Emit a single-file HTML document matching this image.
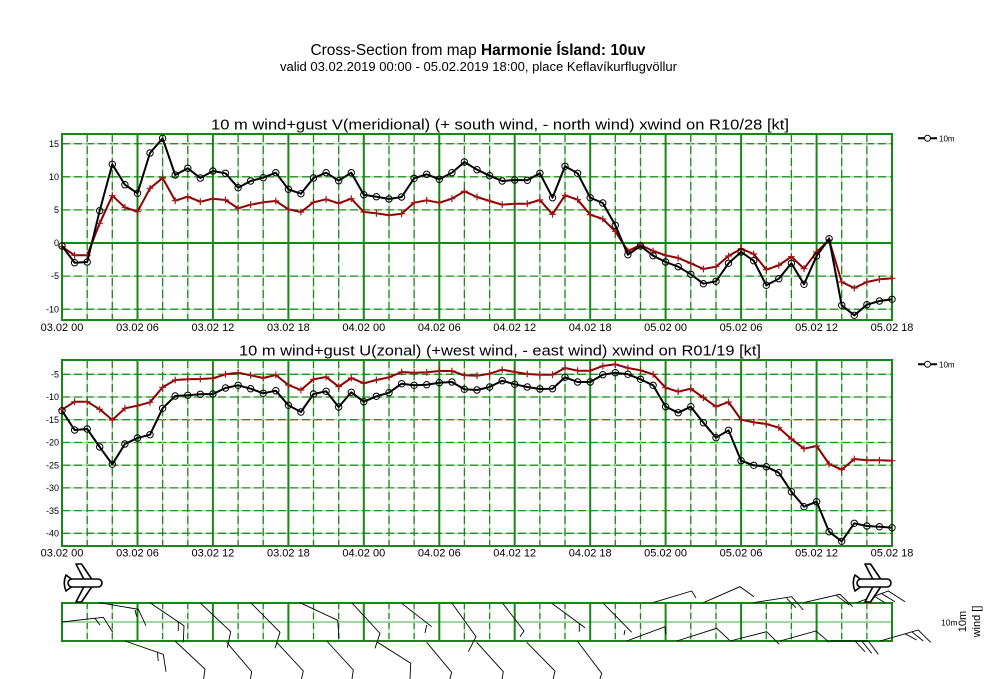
<!DOCTYPE html>
<html><head><meta charset="utf-8"><style>
html,body{margin:0;padding:0;background:#fff;}
svg{display:block;}
text{font-family:"Liberation Sans","DejaVu Sans",sans-serif;fill:#000;}
</style></head><body>
<svg width="1000" height="679" viewBox="0 0 1000 679" xmlns="http://www.w3.org/2000/svg">
<defs>
<marker id="mc" markerWidth="10" markerHeight="10" refX="5" refY="5" markerUnits="userSpaceOnUse"><circle cx="5" cy="5" r="3.2" fill="none" stroke="#000" stroke-width="1"/></marker>
<marker id="mp" markerWidth="10" markerHeight="10" refX="5" refY="5" markerUnits="userSpaceOnUse"><path d="M1.6 5H8.4M5 1.6V8.4" stroke="#a01818" stroke-width="1.2"/></marker>
</defs>
<rect width="1000" height="679" fill="#fff"/>

<!-- Titles -->
<text x="478" y="55" text-anchor="middle" font-size="15.5" textLength="335" lengthAdjust="spacingAndGlyphs">Cross-Section from map <tspan font-weight="bold">Harmonie Ísland: 10uv</tspan></text>
<text x="478.5" y="71" text-anchor="middle" font-size="12.5" textLength="397" lengthAdjust="spacingAndGlyphs">valid 03.02.2019 00:00 - 05.02.2019 18:00, place Keflavíkurflugvöllur</text>

<text x="500" y="129.5" text-anchor="middle" font-size="15" textLength="578" lengthAdjust="spacingAndGlyphs">10 m wind+gust V(meridional) (+ south wind, - north wind) xwind on R10/28 [kt]</text>
<text x="500" y="355.5" text-anchor="middle" font-size="15" textLength="522" lengthAdjust="spacingAndGlyphs">10 m wind+gust U(zonal) (+west wind, - east wind) xwind on R01/19 [kt]</text>

<!-- ===== Top plot grid ===== -->
<g fill="none">
<path d="M62 143.7H892M62 176.8H892M62 209.9H892M62 276.1H892M62 309.2H892" stroke="#a6d8a6" stroke-width="1.3"/>
<path d="M62 143.7H892M62 176.8H892M62 209.9H892M62 276.1H892M62 309.2H892" stroke="#2a8c2a" stroke-width="1.3" stroke-dasharray="8,4"/>
<path d="M87.2 134V320M112.3 134V320M162.6 134V320M187.8 134V320M238.1 134V320M263.2 134V320M313.5 134V320M338.7 134V320M389 134V320M414.1 134V320M464.4 134V320M489.6 134V320M539.9 134V320M565 134V320M615.3 134V320M640.5 134V320M690.8 134V320M716 134V320M766.3 134V320M791.4 134V320M841.7 134V320M866.9 134V320" stroke="#a6d8a6" stroke-width="1.2"/>
<path d="M87.2 134V320M112.3 134V320M162.6 134V320M187.8 134V320M238.1 134V320M263.2 134V320M313.5 134V320M338.7 134V320M389 134V320M414.1 134V320M464.4 134V320M489.6 134V320M539.9 134V320M565 134V320M615.3 134V320M640.5 134V320M690.8 134V320M716 134V320M766.3 134V320M791.4 134V320M841.7 134V320M866.9 134V320" stroke="#1f861f" stroke-width="1.3" stroke-dasharray="8,4"/>
<path d="M137.5 134V320M212.9 134V320M288.4 134V320M363.8 134V320M439.3 134V320M514.7 134V320M590.2 134V320M665.6 134V320M741.1 134V320M816.6 134V320M62 243H892" stroke="#168816" stroke-width="2"/>
<rect x="62" y="134" width="830" height="186" stroke="#168816" stroke-width="2"/>
</g>
<g font-size="9" text-anchor="end">
<text x="59" y="147">15</text><text x="59" y="180">10</text><text x="59" y="213">5</text><text x="59" y="246">0</text><text x="59" y="279">-5</text><text x="59" y="312.5">-10</text>
</g>
<g font-size="11" text-anchor="middle">
<text x="62" y="331">03.02 00</text><text x="137.5" y="331">03.02 06</text><text x="212.9" y="331">03.02 12</text><text x="288.4" y="331">03.02 18</text><text x="363.8" y="331">04.02 00</text><text x="439.3" y="331">04.02 06</text><text x="514.7" y="331">04.02 12</text><text x="590.2" y="331">04.02 18</text><text x="665.6" y="331">05.02 00</text><text x="741.1" y="331">05.02 06</text><text x="816.6" y="331">05.02 12</text><text x="892" y="331">05.02 18</text>
</g>
<polyline fill="none" stroke="#8b0000" stroke-width="2" stroke-linejoin="round" marker-start="url(#mp)" marker-mid="url(#mp)" marker-end="url(#mp)" points="62,246.7 74.6,255.3 87.2,255.3 99.7,223.3 112.3,195.7 124.9,207.3 137.5,211.7 150.0,188.3 162.6,178.0 175.2,200.7 187.8,196.7 200.3,201.7 212.9,198.7 225.5,200.0 238.1,208.3 250.6,204.7 263.2,202.3 275.8,201.0 288.4,209.3 300.9,212.0 313.5,202.3 326.1,199.3 338.7,203.3 351.3,198.7 363.8,212.0 376.4,213.3 389.0,215.3 401.6,213.7 414.1,202.7 426.7,200.3 439.3,202.7 451.9,198.7 464.4,191.3 477.0,197.0 489.6,201.0 502.2,204.7 514.7,203.7 527.3,203.7 539.9,200.0 552.5,214.3 565.0,195.3 577.6,199.7 590.2,214.7 602.8,219.0 615.3,231.3 627.9,251.0 640.5,245.0 653.1,251.0 665.6,255.3 678.2,258.0 690.8,263.3 703.4,269.0 716.0,266.7 728.5,256.0 741.1,248.7 753.7,254.0 766.3,269.7 778.8,265.3 791.4,256.7 804.0,268.7 816.6,252.0 829.1,240.0 841.7,282.0 854.3,288.0 866.9,282.0 879.4,279.3 892.0,278.3"/>
<polyline fill="none" stroke="#000" stroke-width="2" stroke-linejoin="round" marker-start="url(#mc)" marker-mid="url(#mc)" marker-end="url(#mc)" points="62,246.0 74.6,262.7 87.2,262.0 99.7,210.7 112.3,164.3 124.9,184.7 137.5,193.3 150.0,153.0 162.6,138.3 175.2,175.0 187.8,168.3 200.3,178.0 212.9,171.0 225.5,173.3 238.1,187.7 250.6,181.0 263.2,177.7 275.8,172.7 288.4,189.3 300.9,193.7 313.5,178.0 326.1,172.7 338.7,180.7 351.3,172.7 363.8,194.7 376.4,196.7 389.0,199.0 401.6,197.0 414.1,178.3 426.7,174.3 439.3,179.3 451.9,172.7 464.4,162.0 477.0,169.7 489.6,175.7 502.2,181.0 514.7,180.0 527.3,180.3 539.9,173.3 552.5,197.7 565.0,166.3 577.6,173.3 590.2,197.7 602.8,203.0 615.3,225.3 627.9,254.7 640.5,246.0 653.1,255.7 665.6,262.0 678.2,266.7 690.8,274.3 703.4,283.7 716.0,281.3 728.5,263.3 741.1,252.0 753.7,260.7 766.3,285.3 778.8,278.7 791.4,263.3 804.0,284.3 816.6,256.0 829.1,238.7 841.7,305.3 854.3,315.3 866.9,304.7 879.4,301.0 892.0,299.3"/>
<!-- legend top -->
<path d="M918 138.3H937" stroke="#000" stroke-width="2"/>
<circle cx="927.5" cy="138.3" r="3" fill="#fff" stroke="#000" stroke-width="1"/>
<text x="939" y="141.3" font-size="8">10m</text>

<!-- ===== Bottom plot grid ===== -->
<g fill="none">
<path d="M62 374.3H892M62 397H892M62 419.7H892M62 442.5H892M62 465.2H892M62 487.9H892M62 510.6H892M62 533.3H892" stroke="#a6d8a6" stroke-width="1.3"/>
<path d="M62 374.3H892M62 397H892M62 419.7H892M62 442.5H892M62 465.2H892M62 487.9H892M62 510.6H892M62 533.3H892" stroke="#2a8c2a" stroke-width="1.3" stroke-dasharray="8,4"/>
<path d="M87.2 360V546M112.3 360V546M162.6 360V546M187.8 360V546M238.1 360V546M263.2 360V546M313.5 360V546M338.7 360V546M389 360V546M414.1 360V546M464.4 360V546M489.6 360V546M539.9 360V546M565 360V546M615.3 360V546M640.5 360V546M690.8 360V546M716 360V546M766.3 360V546M791.4 360V546M841.7 360V546M866.9 360V546" stroke="#a6d8a6" stroke-width="1.2"/>
<path d="M87.2 360V546M112.3 360V546M162.6 360V546M187.8 360V546M238.1 360V546M263.2 360V546M313.5 360V546M338.7 360V546M389 360V546M414.1 360V546M464.4 360V546M489.6 360V546M539.9 360V546M565 360V546M615.3 360V546M640.5 360V546M690.8 360V546M716 360V546M766.3 360V546M791.4 360V546M841.7 360V546M866.9 360V546" stroke="#1f861f" stroke-width="1.3" stroke-dasharray="8,4"/>
<path d="M137.5 360V546M212.9 360V546M288.4 360V546M363.8 360V546M439.3 360V546M514.7 360V546M590.2 360V546M665.6 360V546M741.1 360V546M816.6 360V546" stroke="#168816" stroke-width="2"/>
<rect x="62" y="360" width="830" height="186" stroke="#168816" stroke-width="2"/>
</g>
<g font-size="9" text-anchor="end">
<text x="59" y="377.5">-5</text><text x="59" y="400.2">-10</text><text x="59" y="422.9">-15</text><text x="59" y="445.7">-20</text><text x="59" y="468.4">-25</text><text x="59" y="491.1">-30</text><text x="59" y="513.8">-35</text><text x="59" y="536.5">-40</text>
</g>
<g font-size="11" text-anchor="middle">
<text x="62" y="556.5">03.02 00</text><text x="137.5" y="556.5">03.02 06</text><text x="212.9" y="556.5">03.02 12</text><text x="288.4" y="556.5">03.02 18</text><text x="363.8" y="556.5">04.02 00</text><text x="439.3" y="556.5">04.02 06</text><text x="514.7" y="556.5">04.02 12</text><text x="590.2" y="556.5">04.02 18</text><text x="665.6" y="556.5">05.02 00</text><text x="741.1" y="556.5">05.02 06</text><text x="816.6" y="556.5">05.02 12</text><text x="892" y="556.5">05.02 18</text>
</g>
<polyline fill="none" stroke="#8b0000" stroke-width="2" stroke-linejoin="round" marker-start="url(#mp)" marker-mid="url(#mp)" marker-end="url(#mp)" points="62,409.7 74.6,401.7 87.2,401.7 99.7,409.3 112.3,420.0 124.9,408.3 137.5,405.7 150.0,402.3 162.6,387.3 175.2,380.0 187.8,379.3 200.3,379.0 212.9,378.3 225.5,374.3 238.1,372.7 250.6,375.3 263.2,378.0 275.8,375.0 288.4,385.0 300.9,390.0 313.5,379.3 326.1,377.0 338.7,386.7 351.3,378.0 363.8,383.3 376.4,380.0 389.0,377.3 401.6,372.0 414.1,372.7 426.7,372.3 439.3,371.0 451.9,371.0 464.4,375.3 477.0,375.7 489.6,373.7 502.2,369.7 514.7,372.0 527.3,374.0 539.9,374.7 552.5,374.7 565.0,368.0 577.6,370.7 590.2,370.7 602.8,366.0 615.3,364.3 627.9,368.0 640.5,370.3 653.1,374.3 665.6,387.7 678.2,391.7 690.8,388.7 703.4,397.7 716.0,406.7 728.5,402.0 741.1,419.7 753.7,422.3 766.3,424.0 778.8,427.7 791.4,439.0 804.0,448.7 816.6,446.0 829.1,464.0 841.7,469.7 854.3,459.0 866.9,460.3 879.4,460.3 892.0,460.7"/>
<polyline fill="none" stroke="#000" stroke-width="2" stroke-linejoin="round" marker-start="url(#mc)" marker-mid="url(#mc)" marker-end="url(#mc)" points="62,410.7 74.6,430.0 87.2,429.0 99.7,447.0 112.3,464.3 124.9,444.0 137.5,438.0 150.0,434.7 162.6,408.3 175.2,396.0 187.8,395.3 200.3,394.3 212.9,394.0 225.5,388.0 238.1,385.3 250.6,388.7 263.2,393.3 275.8,390.7 288.4,405.3 300.9,412.0 313.5,394.0 326.1,391.3 338.7,407.0 351.3,392.3 363.8,401.7 376.4,396.3 389.0,392.7 401.6,383.7 414.1,385.3 426.7,384.7 439.3,382.7 451.9,382.0 464.4,389.3 477.0,390.0 489.6,387.0 502.2,380.7 514.7,384.3 527.3,387.0 539.9,389.0 552.5,388.7 565.0,377.3 577.6,382.0 590.2,382.0 602.8,374.7 615.3,372.7 627.9,374.3 640.5,379.3 653.1,385.3 665.6,406.7 678.2,412.7 690.8,406.7 703.4,422.7 716.0,437.7 728.5,430.3 741.1,460.7 753.7,465.3 766.3,466.7 778.8,472.7 791.4,491.7 804.0,506.7 816.6,501.7 829.1,531.7 841.7,541.3 854.3,523.3 866.9,526.0 879.4,526.7 892.0,527.7"/>
<!-- legend bottom -->
<path d="M918 364.3H937" stroke="#000" stroke-width="2"/>
<circle cx="927.5" cy="364.3" r="3" fill="#fff" stroke="#000" stroke-width="1"/>
<text x="939" y="367.3" font-size="8">10m</text>

<!-- ===== Wind barb panel ===== -->
<g fill="none">
<path d="M62 622H892" stroke="#86c886" stroke-width="1.5"/>
<path d="M87.2 603V641M112.3 603V641M162.6 603V641M187.8 603V641M238.1 603V641M263.2 603V641M313.5 603V641M338.7 603V641M389 603V641M414.1 603V641M464.4 603V641M489.6 603V641M539.9 603V641M565 603V641M615.3 603V641M640.5 603V641M690.8 603V641M716 603V641M766.3 603V641M791.4 603V641M841.7 603V641M866.9 603V641" stroke="#a6d8a6" stroke-width="1.2"/>
<path d="M87.2 603V641M112.3 603V641M162.6 603V641M187.8 603V641M238.1 603V641M263.2 603V641M313.5 603V641M338.7 603V641M389 603V641M414.1 603V641M464.4 603V641M489.6 603V641M539.9 603V641M565 603V641M615.3 603V641M640.5 603V641M690.8 603V641M716 603V641M766.3 603V641M791.4 603V641M841.7 603V641M866.9 603V641" stroke="#1f861f" stroke-width="1.3" stroke-dasharray="6,4"/>
<path d="M137.5 603V641M212.9 603V641M288.4 603V641M363.8 603V641M439.3 603V641M514.7 603V641M590.2 603V641M665.6 603V641M741.1 603V641M816.6 603V641" stroke="#168816" stroke-width="2"/>
<rect x="62" y="603" width="830" height="38" stroke="#168816" stroke-width="2"/>
</g>
<g fill="none" stroke="#000" stroke-width="0.9">
<path d="M61.7 622L103.3 617.3L112.7 632.3M95 618.3L100 625"/>
<path d="M99.3 602.7L138.3 609.3L146 625.7M135 610L136.7 616.7"/>
<path d="M150 602.7L184 625.7L183.3 642.3M178.3 621.7L178.3 631"/>
<path d="M200 602.7L230.7 631.7L227.3 647.7"/>
<path d="M250.7 602.7L280 632.3L275 648.3"/>
<path d="M300 602.7L337.7 620.3L339 638.3"/>
<path d="M351.7 602.7L380 633.3L375 648.3"/>
<path d="M401.7 603.3L431.7 626.7M426.7 625L425 633"/>
<path d="M451.7 602.7L476 636.7L468.3 651.7"/>
<path d="M502.7 603.3L524 631L520 636.7"/>
<path d="M551.7 603.3L585 627.7M579.3 623.3L579.3 631.7"/>
<path d="M603.3 603.3L631.7 632.3M625 630L624 635"/>
<path d="M652.7 602.7L691.7 591L696 598"/>
<path d="M703.3 602.7L740 586.7L754 596.7"/>
<path d="M753.3 602.7L791.7 596.7L803.3 610M786.7 598.3L796 607.7"/>
<path d="M803.3 602.7L840 594.3L852.7 606.7M836.7 595.7L849.3 605"/>
<path d="M856.7 602.7L888.3 591L905 601.7M881 593.3L895 601.7M874 596L885 602.7"/>
<path d="M125 641L163.3 654.3L166 671.7M157.3 651.7L158.3 661"/>
<path d="M175 641L205 669L203.3 681"/>
<path d="M226.7 642.3L251.7 671.7L250 681"/>
<path d="M276.7 642.3L303.3 671L301 681"/>
<path d="M326.7 641L353.3 670L351.7 681"/>
<path d="M376.7 641.7L410.7 663.3L410 679"/>
<path d="M426.7 642.3L451.7 672.3L449.3 681"/>
<path d="M476.7 642.3L503.3 671.7L501.7 681"/>
<path d="M526.7 642.3L555 671L552.7 681"/>
<path d="M577.3 641L601.7 673.3L599.3 681"/>
<path d="M626.7 641L665 626.7L666 634.3"/>
<path d="M676.7 641L716.7 628.3L729.3 640"/>
<path d="M730 641L766.7 631.7L779.3 644.3"/>
<path d="M780 641L816 631L829.3 642.3"/>
<path d="M830 641L868 641M855 641L865 651.7M861.7 641L871.7 653.3M868.3 641L878.3 654.3"/>
<path d="M880 641L918.3 630L930.7 642.3M911.7 631.7L923.3 641M905 633.7L916.7 640"/>
</g>

<!-- airplanes -->
<g fill="#fff" stroke="#000" stroke-width="1.6" stroke-linejoin="round">
<path d="M76 564L81.5 564L92 579.5L84 579.5Z"/>
<path d="M84 586.5L92 586.5L81.5 602L76 602Z"/>
<path d="M72 579.5L66 575Q62.5 583 66 591L72 586.5Z"/>
<rect x="68" y="579" width="34" height="8" rx="4"/>
</g>
<g fill="#fff" stroke="#000" stroke-width="1.6" stroke-linejoin="round" transform="translate(789,0)">
<path d="M76 564L81.5 564L92 579.5L84 579.5Z"/>
<path d="M84 586.5L92 586.5L81.5 602L76 602Z"/>
<path d="M72 579.5L66 575Q62.5 583 66 591L72 586.5Z"/>
<rect x="68" y="579" width="34" height="8" rx="4"/>
</g>

<!-- right labels -->
<text x="941" y="625.5" font-size="8.5">10m</text>
<text transform="translate(966,621.5) rotate(-90)" text-anchor="middle" font-size="11">10m</text>
<text transform="translate(980,621.5) rotate(-90)" text-anchor="middle" font-size="11">wind []</text>
</svg>
</body></html>
